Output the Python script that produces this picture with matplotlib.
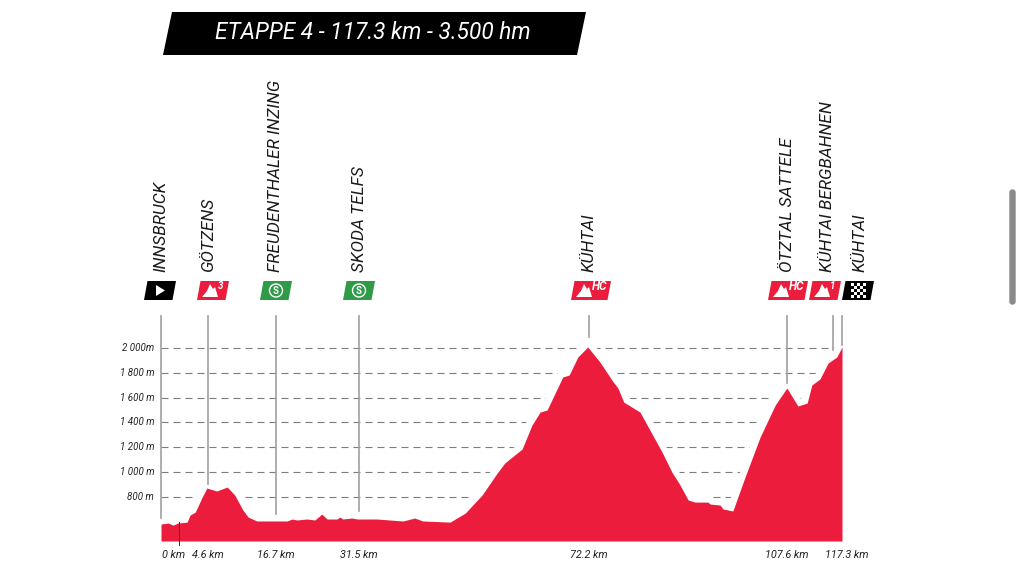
import matplotlib
matplotlib.use("Agg")
import matplotlib.pyplot as plt
from matplotlib.patches import Polygon, Circle, FancyBboxPatch, Rectangle

title = "ETAPPE 4 - 117.3 km - 3.500 hm"

profile_km = [0, 1.2, 2.1, 2.9, 4.5, 5.0, 5.9, 7.1, 7.9, 9.6, 11.4, 12.7, 14.1, 15.0, 16.5,
              21.7, 22.6, 23.4, 25.1, 26.5, 27.7, 28.6, 30.3, 30.8, 31.3, 32.9, 33.8, 37.2,
              41.7, 43.7, 45.1, 49.8, 52.4, 55.3, 57.9, 59.2, 62.2, 63.9, 65.3, 66.5, 69.2,
              70.3, 71.8, 73.5, 75.6, 77.9, 78.7, 79.7, 82.5, 86.3, 88.0, 89.4, 90.8, 92.0,
              94.2, 94.6, 96.3, 96.8, 98.5, 100.6, 103.2, 105.8, 107.8, 109.7, 111.3, 112.1,
              113.5, 114.9, 116.4, 117.3]
profile_alt = [577, 585, 569, 585, 593, 650, 674, 796, 869, 845, 877, 812, 691, 634, 602,
               602, 618, 610, 618, 610, 658, 618, 618, 634, 618, 626, 618, 618,
               602, 626, 602, 593, 666, 812, 990, 1071, 1185, 1379, 1484, 1501, 1768,
               1784, 1930, 2011, 1889, 1727, 1679, 1565, 1484, 1160, 998, 893, 772, 755,
               755, 739, 731, 699, 683, 958, 1282, 1541, 1679, 1533, 1557, 1703,
               1752, 1881, 1930, 2011]

grid_alt = [800, 1000, 1200, 1400, 1600, 1800, 2000]
grid_labels = ["800 m", "1 000 m", "1 200 m", "1 400 m", "1 600 m", "1 800 m", "2 000m"]

# names on top of the chart, km = where the line is drawn on the profile
stop_names = ["INNSBRUCK", "GÖTZENS", "FREUDENTHALER INZING", "SKODA TELFS", "KÜHTAI",
              "ÖTZTAL SATTELE", "KÜHTAI BERGBAHNEN", "KÜHTAI"]
stop_km = [0, 8.1, 19.8, 34.1, 73.7, 107.8, 115.7, 117.3]
stop_line_end = [630, 900, 660, 680, 2090, 1720, 1990, 2030]
stop_kind = ["start", "3", "sprint", "sprint", "HC", "HC", "1", "finish"]

dist_labels = ["0 km", "4.6 km", "16.7 km", "31.5 km", "72.2 km", "107.6 km", "117.3 km"]
dist_label_km = [2.1, 8.1, 19.8, 34.1, 73.7, 107.8, 118.1]

RED = "#ec1c3c"
GREEN = "#2f9a48"
FONT = "Roboto"

fig = plt.figure(figsize=(10.24, 5.76), dpi=100, facecolor="white")

# chart area, 0 km .. 117.3 km is 161px .. 842px
ax = fig.add_axes([161 / 1024, 1 - 541 / 576, (842 - 161) / 1024, (541 - 316) / 576])
ax.set_xlim(0, 117.3)
ax.set_ylim(440, 2262)
ax.axis("off")

for alt, label in zip(grid_alt, grid_labels):
    ax.plot([0, 117.3], [alt, alt], color="#7d7d7d", lw=0.8, dashes=(6.3, 4.5), zorder=1, clip_on=False)
    ax.text(-1.2, alt, label, ha="right", va="center", fontsize=7, style="italic",
            family=FONT, color="#222222")

ax.plot(profile_km, profile_alt, color="white", lw=9, zorder=2, clip_on=False)
ax.fill_between(profile_km, profile_alt, 440, color=RED, lw=0, zorder=3)

for km, end in zip(stop_km, stop_line_end):
    ax.plot([km, km], [end, 2262], color="#a0a0a0", lw=1.2, zorder=4, clip_on=False)

ax.plot([3.1, 3.1], [408, 593], color="#333333", lw=0.7, zorder=5, clip_on=False)

for km, label in zip(dist_label_km, dist_labels):
    ax.annotate(label, (km, 440), xytext=(0, -10), textcoords="offset points", ha="center",
                va="center", fontsize=7.8, style="italic", family=FONT, color="#222222",
                annotation_clip=False)

# overlay in pixels for the banner and the icons
over = fig.add_axes([0, 0, 1, 1], zorder=10)
over.set_xlim(0, 1024)
over.set_ylim(576, 0)
over.axis("off")

over.add_patch(Polygon([(163, 55), (172, 12), (586, 12), (577, 55)], color="black", lw=0))
over.text(373, 32.5, title, color="white", ha="center", va="center", fontsize=16.3,
          style="italic", family=FONT)

# scroll bar of the screenshot
over.add_patch(FancyBboxPatch((1010, 190), 5, 114, boxstyle="round,pad=0,rounding_size=2.5",
                              color="#8a8a8a", lw=1))


def draw_badge(left, width, color):
    over.add_patch(Polygon([(left, 300), (left + 3.5, 281), (left + width, 281), (left + width - 3.5, 300)],
                           color=color, lw=0))


def draw_mountain(left):
    over.add_patch(Polygon([(left + 5, 297), (left + 10, 291), (left + 13, 284), (left + 16, 289),
                            (left + 18, 287), (left + 21, 297)], color="white", lw=0))


badge_left = {"INNSBRUCK": 144, "GÖTZENS": 197, "FREUDENTHALER INZING": 260, "SKODA TELFS": 343,
              "KÜHTAI": 571, "ÖTZTAL SATTELE": 768, "KÜHTAI BERGBAHNEN": 809}
name_x = [161, 209, 276, 359, 589, 788, 828, 860]

for i, (name, kind) in enumerate(zip(stop_names, stop_kind)):
    x = name_x[i]
    over.text(x, 272, name, rotation=90, ha="center", va="bottom", fontsize=12.4, style="italic",
              family=FONT, color="#1a1a1a")
    left = 842 if kind == "finish" else badge_left[name]
    if kind == "start":
        draw_badge(left, 32, "black")
        over.add_patch(Polygon([(left + 12, 285), (left + 21, 290.5), (left + 12, 296)], color="white", lw=0))
    elif kind == "finish":
        draw_badge(left, 32, "black")
        for r in range(5):
            for c in range(5):
                if (r + c) % 2 == 0:
                    over.add_patch(Rectangle((left + 8.5 + c * 3, 283 + r * 3), 3, 3, color="white", lw=0))
    elif kind == "sprint":
        draw_badge(left, 32, GREEN)
        over.add_patch(Circle((left + 16, 290.5), 6.5, fill=False, ec="white", lw=1))
        over.text(left + 16, 290.7, "S", color="white", ha="center", va="center", fontsize=7,
                  fontweight="bold", family=FONT)
    else:
        width = 40 if kind == "HC" else 32
        draw_badge(left, width, RED)
        draw_mountain(left)
        over.text(left + 21, 286, kind, color="white", ha="left", va="center",
                  fontsize=8.5 if kind == "HC" else 7,
                  fontweight="bold", style="italic", family=FONT)

fig.savefig("out.png", dpi=100, facecolor="white")
